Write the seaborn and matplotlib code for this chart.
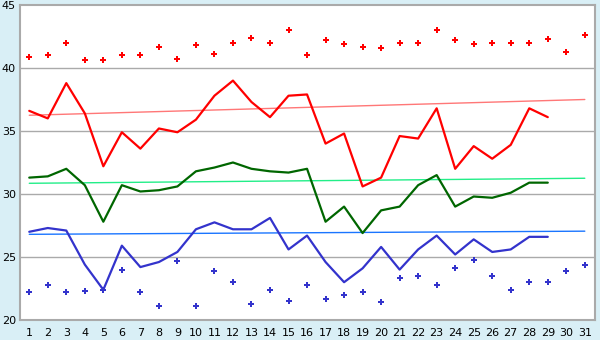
import numpy as np
import pandas as pd
import matplotlib
matplotlib.use('Agg')
import matplotlib.pyplot as plt
import seaborn as sns

# 日期
days = list(range(1, 32))

# 最高值散点 (31 天)
max_pts = [40.9, 41.0, 42.0, 40.6, 40.6, 41.0, 41.0, 41.7, 40.7, 41.8,
           41.1, 42.0, 42.4, 42.0, 43.0, 41.0, 42.2, 41.9, 41.7, 41.6,
           42.0, 42.0, 43.0, 42.2, 41.9, 42.0, 42.0, 42.0, 42.3, 41.3, 42.6]

# 最低值散点 (31 天)
min_pts = [22.2, 22.8, 22.2, 22.3, 22.4, 24.0, 22.2, 21.1, 24.7, 21.1,
           23.9, 23.0, 21.25, 22.4, 21.5, 22.8, 21.7, 22.0, 22.2, 21.4,
           23.3, 23.5, 22.8, 24.1, 24.8, 23.5, 22.4, 23.0, 23.0, 23.9, 24.4]

# 折线 (前 29 天)
line_days = list(range(1, 30))
high_line = [36.6, 36.0, 38.8, 36.4, 32.2, 34.9, 33.6, 35.2, 34.9, 35.9,
             37.8, 39.0, 37.3, 36.1, 37.8, 37.9, 34.0, 34.8, 30.6, 31.3,
             34.6, 34.4, 36.8, 32.0, 33.8, 32.8, 33.9, 36.8, 36.1]
mid_line = [31.3, 31.4, 32.0, 30.7, 27.8, 30.7, 30.2, 30.3, 30.6, 31.8,
            32.1, 32.5, 32.0, 31.8, 31.7, 32.0, 27.8, 29.0, 26.9, 28.7,
            29.0, 30.7, 31.5, 29.0, 29.8, 29.7, 30.1, 30.9, 30.9]
low_line = [27.0, 27.3, 27.1, 24.4, 22.4, 25.9, 24.2, 24.6, 25.4, 27.2,
            27.75, 27.2, 27.2, 28.1, 25.6, 26.7, 24.6, 23.0, 24.1, 25.8,
            24.0, 25.6, 26.7, 25.2, 26.4, 25.4, 25.6, 26.6, 26.6]

# 常年值 (起止两点)
normal_days = [1, 31]
normal_high = [36.25, 37.5]
normal_mid = [30.85, 31.25]
normal_low = [26.8, 27.05]

sns.set_style('white')
plt.rcParams['font.family'] = ['DejaVu Sans']

bg = '#d9eff6'
fig = plt.figure(figsize=(6, 3.4), dpi=100, facecolor=bg)
ax = fig.add_axes([20 / 600, 20 / 340, 575 / 600, 315 / 340])
ax.set_facecolor('white')

# 网格
for v in [25, 30, 35, 40]:
    ax.axhline(v, color='#aaaaaa', lw=1, zorder=0)

# 常年值线
sns.lineplot(x=normal_days, y=normal_high, color='#ff7777', lw=1, ax=ax)
sns.lineplot(x=normal_days, y=normal_mid, color='#22ee88', lw=1, ax=ax)
sns.lineplot(x=normal_days, y=normal_low, color='#1a75ff', lw=1, ax=ax)

# 实测折线
sns.lineplot(x=line_days, y=high_line, color='#ff0000', lw=1.6, ax=ax)
sns.lineplot(x=line_days, y=mid_line, color='#006600', lw=1.6, ax=ax)
sns.lineplot(x=line_days, y=low_line, color='#3333cc', lw=1.6, ax=ax)

# 极值散点
sns.scatterplot(x=days, y=max_pts, color='#ff0000', marker='P', s=24,
                linewidth=0, ax=ax)
sns.scatterplot(x=days, y=min_pts, color='#3333cc', marker='P', s=24,
                linewidth=0, ax=ax)

ax.set_xlim(0.5, 31.55)
ax.set_ylim(20, 45)
ax.set_xticks(days)
ax.set_xticklabels([str(d) for d in days])
ax.set_yticks([20, 25, 30, 35, 40, 45])
ax.tick_params(axis='both', direction='out', length=3.5, width=1, color='black',
               labelsize=8, labelcolor='black', pad=2)
ax.tick_params(axis='y', length=2.5, pad=0.5)
for sp in ax.spines.values():
    sp.set_color('#aaaaaa')
    sp.set_linewidth(1.5)

fig.savefig('out.png', dpi=100, facecolor=bg)
